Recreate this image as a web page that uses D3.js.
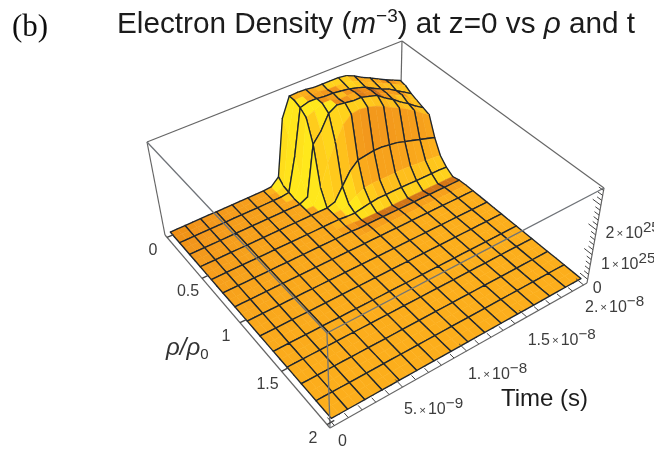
<!DOCTYPE html>
<html>
<head>
<meta charset="utf-8">
<script src="https://cdn.jsdelivr.net/npm/d3@7"></script>
<style>
  html, body { margin: 0; padding: 0; background: #fff; overflow: hidden; }
  text { font-family: "Liberation Sans", Arial, sans-serif; }
</style>
</head>
<body>
<div id="chart"></div>
<script>
// Axis ticks and labels
var rhoTicks = [0, 0.5, 1, 1.5, 2];
var rhoLabels = ['0', '0.5', '1', '1.5', '2'];
var timeTicks = [0, 5e-9, 1e-8, 1.5e-8, 2e-8];
var timeMantissa = ['0', '5.', '1.', '1.5', '2.'];
var timeExponent = ['', '\u22129', '\u22128', '\u22128', '\u22128'];
var densityTicks = [0, 1, 2];
var densityMantissa = ['0', '1', '2'];
var densityExponent = ['', '25', '25'];

// Grid steps: 13 x 15 mesh cells, each one split in half
var rhoSteps = d3.range(27).map(function(i) { return i * 2 / 26; });
var timeSteps = d3.range(31).map(function(i) { return i * 2e-8 / 30; });

// Density in 1e25 m^-3, one row per rho step,
// columns are time steps 12..30. Everything outside of this is zero.
var firstTimeStep = 12;
var densityRows = [
  [0, .02, .3, 2.6, 3.4, 3.42, 3.4, 3.35, 3.35, 3.35, 3.35, 3.3, 3.15, 2.95, 2.8, 2.62, 2.45, 2.3, 2.15],
  [0, 0, .1, 2.1, 3.4, 3.42, 3.38, 3.36, 3.3, 3.3, 3.3, 3.25, 3.1, 2.92, 2.75, 2.6, 2.45, 2.28, 2.1],
  [0, 0, .05, 1.4, 3.3, 3.4, 3.4, 3.35, 3.35, 3.3, 3.25, 3.15, 3.05, 2.85, 2.7, 2.55, 2.35, 2.15, 1.95],
  [0, 0, 0, .7, 3.1, 3.25, 3.4, 3.4, 3.3, 3.3, 3.3, 3.15, 3.1, 2.85, 2.7, 2.5, 2.35, 2.05, 1.85],
  [0, 0, 0, .15, 2.2, 2.6, 3.2, 3.4, 3.35, 3.3, 3.3, 3.2, 3.1, 2.85, 2.65, 2.4, 2.2, 1.95, 1.75],
  [0, 0, 0, 0, .6, 1.5, 2.2, 2.8, 3.1, 3.15, 3.1, 3.0, 2.85, 2.65, 2.5, 2.3, 2.1, 1.85, 1.65],
  [0, 0, 0, 0, 0, .1, .6, 1.1, 1.4, 1.45, 1.5, 1.5, 1.45, 1.4, 1.3, 1.2, 1.1, 1.0, .9],
  [0, 0, 0, 0, 0, 0, .1, .3, .45, .5, .5, .5, .5, .5, .48, .45, .42, .4, .35],
  [0, 0, 0, 0, 0, -.03, -.04, .02, .08, .12, .12, .12, .12, .12, .1, .1, .1, .1, .08],
  [0, 0, 0, 0, -.02, -.05, -.08, -.09, -.09, -.09, -.09, -.09, -.09, -.09, -.09, -.09, -.09, -.09, -.09],
  [0, 0, 0, 0, 0, -.02, -.02, -.02, -.02, -.02, -.02, -.02, -.02, -.02, -.02, -.02, -.02, -.02, -.02]
];

var width = 654, height = 450;

// Box corners on screen: left, front, right, back
var floorCorners = [[165, 235], [330, 428], [587, 283], [400, 131]];
var roofCorners = [[147, 142], [327, 333], [604, 188], [402, 41]];

// Unit square to quad, perspective
function quadMap(q) {
  var dx1 = q[1][0] - q[2][0], dx2 = q[3][0] - q[2][0], sx = q[0][0] - q[1][0] + q[2][0] - q[3][0],
      dy1 = q[1][1] - q[2][1], dy2 = q[3][1] - q[2][1], sy = q[0][1] - q[1][1] + q[2][1] - q[3][1],
      det = dx1 * dy2 - dx2 * dy1,
      g = (sx * dy2 - dx2 * sy) / det,
      h = (dx1 * sy - sx * dy1) / det;
  return function(u, v) {
    var k = g * u + h * v + 1;
    return [
      ((q[1][0] - q[0][0] + g * q[1][0]) * u + (q[3][0] - q[0][0] + h * q[3][0]) * v + q[0][0]) / k,
      ((q[1][1] - q[0][1] + g * q[1][1]) * u + (q[3][1] - q[0][1] + h * q[3][1]) * v + q[0][1]) / k
    ];
  };
}
var floorMap = quadMap(floorCorners), roofMap = quadMap(roofCorners);

function project(u, v, w) {
  var a = floorMap(u, v), b = roofMap(u, v);
  return [a[0] + (b[0] - a[0]) * w, a[1] + (b[1] - a[1]) * w];
}

// Axis positions
var rhoScale = d3.scaleLinear().domain([0, 2]).range([0.015, 0.985]);
var timeScale = d3.scaleLinear().domain([0, 2e-8]).range([0.015, 0.985]);
var densityScale = d3.scaleLinear().domain([-0.15, 3.7]).range([0, 1]);

// The surface needs a bit more depth than the fitted box gives
var rhoSurface = d3.scalePow().exponent(1.05).domain([0, 2]).range([0.015, 0.985]);
var timeSurface = d3.scalePow().exponent(1.05).domain([0, 2e-8]).range([0.015, 0.985]);

// Colour from the lighting value of a facet
var shade = d3.scaleLinear()
  .domain([0.1, 0.3, 0.45, 0.6, 0.85])
  .range(['#a0481a', '#ee8c19', '#fcae1b', '#ffcc1e', '#ffe81a'])
  .clamp(true);

function densityAt(i, j) {
  var row = densityRows[i];
  if (!row || j < firstTimeStep) return 0;
  return row[j - firstTimeStep];
}

function node(i, j) {
  return [rhoSurface(rhoSteps[i]), timeSurface(timeSteps[j]), densityScale(densityAt(i, j))];
}

function facetColour(i, j) {
  var a = node(i, j), b = node(i + 1, j), c = node(i + 1, j + 1), d = node(i, j + 1);
  var e1 = [c[0] - a[0], c[1] - a[1], (c[2] - a[2]) * 0.6],
      e2 = [d[0] - b[0], d[1] - b[1], (d[2] - b[2]) * 0.6];
  var n = [e1[1] * e2[2] - e1[2] * e2[1], e1[2] * e2[0] - e1[0] * e2[2], e1[0] * e2[1] - e1[1] * e2[0]];
  var len = Math.sqrt(n[0] * n[0] + n[1] * n[1] + n[2] * n[2]);
  if (n[2] < 0) len = -len;
  var nu = n[0] / len, nv = n[1] / len, nz = n[2] / len;
  var light = 0.45 * nz
    + 0.3 * Math.min(1, Math.max(0, nu) / 0.3)
    + 0.7 * Math.min(0, nu)
    + 0.6 * Math.max(0, -nv)
    + 0.1 * Math.min(0, -nv);
  // darker orange toward the left corner of the floor
  light -= 0.14 * Math.pow(1 - a[0], 2) * Math.pow(1 - a[1], 2);
  return shade(light);
}

var line = d3.line();

// Far facets first: small rho, large time
var cells = [];
d3.range(rhoSteps.length - 1).forEach(function(i) {
  d3.range(timeSteps.length - 2, -1, -1).forEach(function(j) {
    var p = [[i, j], [i + 1, j], [i + 1, j + 1], [i, j + 1]].map(function(k) {
      var n = node(k[0], k[1]);
      return project(n[0], n[1], n[2]);
    });
    var mesh = '';
    if (i % 2 === 0) mesh += line([p[3], p[0]]);
    if ((i + 1) % 2 === 0) mesh += line([p[1], p[2]]);
    if (j % 2 === 0) mesh += line([p[0], p[1]]);
    if ((j + 1) % 2 === 0) mesh += line([p[2], p[3]]);
    cells.push({ outline: line(p) + 'Z', mesh: mesh, colour: facetColour(i, j) });
  });
});

var svg = d3.select('#chart').append('svg')
  .attr('width', width)
  .attr('height', height)
  .style('display', 'block');

svg.append('defs').append('filter')
  .attr('id', 'soft')
  .append('feGaussianBlur')
  .attr('stdDeviation', 0.45);

var root = svg.append('g').attr('filter', 'url(#soft)');

// Box edges behind the surface
var backEdges = [
  [roofCorners[0], roofCorners[3]],
  [roofCorners[3], roofCorners[2]],
  [roofCorners[3], floorCorners[3]],
  [roofCorners[0], floorCorners[0]],
  [floorCorners[2], roofCorners[2]],
  [floorCorners[0], floorCorners[1]],
  [floorCorners[1], floorCorners[2]]
];
root.append('g').selectAll('path').data(backEdges).enter().append('path')
  .attr('d', function(d) { return line(d); })
  .attr('fill', 'none')
  .attr('stroke', '#666')
  .attr('stroke-width', 1.2);

// Surface
var cell = root.append('g').selectAll('g').data(cells).enter().append('g');
cell.append('path')
  .attr('d', function(d) { return d.outline; })
  .attr('fill', function(d) { return d.colour; })
  .attr('stroke', function(d) { return d.colour; })
  .attr('stroke-width', 0.5);
cell.append('path')
  .attr('d', function(d) { return d.mesh; })
  .attr('fill', 'none')
  .attr('stroke', '#1f2630')
  .attr('stroke-width', 1.35)
  .attr('stroke-linecap', 'round');

// Box edges in front of the surface
var frontEdges = [
  [roofCorners[0], roofCorners[1]],
  [roofCorners[1], roofCorners[2]],
  [roofCorners[1], floorCorners[1]]
];
root.append('g').selectAll('path').data(frontEdges).enter().append('path')
  .attr('d', function(d) { return line(d); })
  .attr('fill', 'none')
  .attr('stroke', '#6f7378')
  .attr('stroke-width', 1.3);

// Ticks, short strokes on the box floor and along the height edge
function tickPath(a, b) { return line([a, b]); }

var timeMinor = d3.range(0, 20.5).map(function(i) { return i * 1e-9; });
var densityMinor = d3.range(0, 3.61, 0.2);

var ticks = root.append('g').attr('fill', 'none').attr('stroke', '#444');
ticks.selectAll('.rho-tick').data(rhoTicks).enter().append('path')
  .attr('class', 'rho-tick')
  .attr('stroke-width', 1.4)
  .attr('d', function(d) {
    var u = rhoScale(d);
    return tickPath(project(u, 0, 0), project(u, 0.025, 0));
  });
ticks.selectAll('.time-tick').data(timeMinor).enter().append('path')
  .attr('class', 'time-tick')
  .attr('stroke-width', 1)
  .attr('d', function(d, i) {
    var v = timeScale(d);
    return tickPath(project(1, v, 0), project(i % 5 === 0 ? 0.965 : 0.98, v, 0));
  });
ticks.selectAll('.density-tick').data(densityMinor).enter().append('path')
  .attr('class', 'density-tick')
  .attr('stroke-width', 1)
  .attr('d', function(d, i) {
    var w = densityScale(d);
    return tickPath(project(1, 1, w), project(i % 5 === 0 ? 0.965 : 0.98, 1, w));
  });

// Tick labels
function sciLabel(sel, mantissa, exponent, size) {
  sel.append('tspan').text(mantissa);
  if (!exponent) return;
  sel.append('tspan').attr('font-size', size * 0.72).attr('dx', 2).attr('dy', -0.5).text('\u00d7');
  sel.append('tspan').attr('dx', 2).attr('dy', 0.5).text('10');
  sel.append('tspan').attr('font-size', size * 0.95).attr('dy', -6).text(exponent);
}

var labels = root.append('g').attr('fill', '#3d3d3d').attr('font-size', 16);

labels.selectAll('.rho-label').data(rhoTicks).enter().append('text')
  .attr('class', 'rho-label')
  .attr('text-anchor', 'middle')
  .attr('x', function(d) { return project(rhoScale(d), 0, 0)[0] - 14; })
  .attr('y', function(d) { return project(rhoScale(d), 0, 0)[1] + 18; })
  .text(function(d, i) { return rhoLabels[i]; });

var timeOffsets = [[8, 20], [31, 27], [31, 28], [35, 28], [31, 27]];
labels.selectAll('.time-label').data(timeTicks).enter().append('text')
  .attr('class', 'time-label')
  .attr('text-anchor', 'middle')
  .attr('x', function(d, i) { return project(1, timeScale(d), 0)[0] + timeOffsets[i][0]; })
  .attr('y', function(d, i) { return project(1, timeScale(d), 0)[1] + timeOffsets[i][1]; })
  .each(function(d, i) { sciLabel(d3.select(this), timeMantissa[i], timeExponent[i], 16); });

var densityOffsets = [[5, 14], [9, 14], [9, 8]];
labels.selectAll('.density-label').data(densityTicks).enter().append('text')
  .attr('class', 'density-label')
  .attr('x', function(d, i) { return project(1, 1, densityScale(d))[0] + densityOffsets[i][0]; })
  .attr('y', function(d, i) { return project(1, 1, densityScale(d))[1] + densityOffsets[i][1]; })
  .each(function(d, i) { sciLabel(d3.select(this), densityMantissa[i], densityExponent[i], 16); });

// Axis titles
root.append('text')
  .attr('x', 501).attr('y', 406)
  .attr('font-size', 24).attr('fill', '#1c1c1c')
  .text('Time (s)');

var rhoTitle = root.append('text')
  .attr('x', 166).attr('y', 355)
  .attr('font-size', 24).attr('fill', '#333');
rhoTitle.append('tspan').attr('font-style', 'italic').text('\u03c1/\u03c1');
rhoTitle.append('tspan').attr('font-size', 15).attr('dy', 4).text('0');

// Titles
root.append('text')
  .attr('x', 12).attr('y', 36)
  .attr('font-size', 31)
  .style('font-family', '"Liberation Serif", serif')
  .attr('fill', '#111')
  .text('(b)');

var title = root.append('text')
  .attr('x', 117).attr('y', 33)
  .attr('font-size', 29.7).attr('fill', '#1a1a1a');
title.append('tspan').text('Electron Density (');
title.append('tspan').attr('font-style', 'italic').text('m');
title.append('tspan').attr('font-size', 19).attr('dy', -11).text('\u22123');
title.append('tspan').attr('dy', 11).text(') at z=0 vs ');
title.append('tspan').attr('font-style', 'italic').text('\u03c1');
title.append('tspan').text(' and t');
</script>
</body>
</html>
